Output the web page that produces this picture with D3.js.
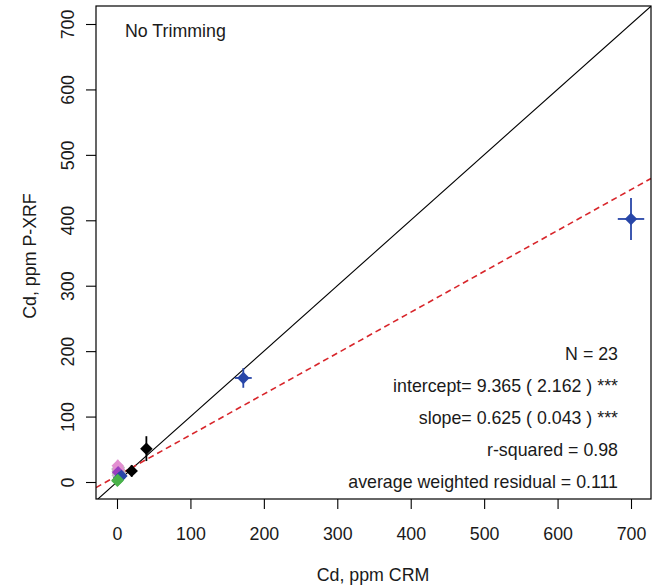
<!DOCTYPE html>
<html><head><meta charset="utf-8">
<script src="https://cdn.jsdelivr.net/npm/d3@7/dist/d3.min.js"></script>
<style>
body{margin:0;background:#fff;}
text{font-family:"Liberation Sans",Arial,sans-serif;fill:#1a1a1a;}
</style></head>
<body>
<svg id="chart" width="665" height="588"></svg>
<script>
// ---- data ----
const crm   = [700, 172, 40, 20, 1, 2, 1.5, 3, 0.5, 2.5, 1, 4, 1, 2, 1.5, 6, 3, 1, 0.5, 2, 3.5, 1.2, 2.8];
const xrf   = [402, 159, 51, 17, 10, 14, 18, 12, 20, 22, 16, 15, 25, 20, 15, 9, 6, 3, 2, 11, 8, 13, 19];
const xErr  = [18, 11.5, 2, 2, 1, 1, 1, 1, 1, 1, 1, 1, 1, 1, 1, 1, 1, 1, 1, 1, 1, 1, 1];
const yErr  = [32, 15, 19, 9, 4, 4, 4, 4, 4, 4, 4, 4, 9, 6, 4, 3, 3, 3, 2, 4, 3, 4, 5];
const group = ["blue","blue","black","black","gray","gray","gray","gray","gray","gray","gray","gray","pink","pink","purple","blue","blue","green","green","gray","gray","gray","gray"];
const groupColors = {blue:"#2846a8", black:"#000000", gray:"#bdbdbd", pink:"#e28fd0", purple:"#9b3fc0", green:"#49b24a"};
const xTicks = [0,100,200,300,400,500,600,700];
const yTicks = [0,100,200,300,400,500,600,700];
const fitIntercept = 9.365, fitSlope = 0.625;
const statLines = ["N = 23","intercept= 9.365 ( 2.162 ) ***","slope= 0.625 ( 0.043 ) ***","r-squared = 0.98","average weighted residual = 0.111"];
const panelLabel = "No Trimming";
const xLabel = "Cd, ppm CRM", yLabel = "Cd, ppm P-XRF";

// ---- layout ----
const box = {l:96, r:651, t:6, b:499};
const x = d3.scaleLinear().domain([0,700]).range([117,631]);
const y = d3.scaleLinear().domain([0,700]).range([482,24]);
const svg = d3.select("#chart");
const FS = 17.8;

svg.append("defs").append("clipPath").attr("id","clip")
  .append("rect").attr("x",box.l).attr("y",box.t).attr("width",box.r-box.l).attr("height",box.b-box.t);

const xmin = x.invert(box.l), xmax = x.invert(box.r);
const plot = svg.append("g").attr("clip-path","url(#clip)");
// identity line
plot.append("line")
  .attr("x1",x(xmin)).attr("y1",y(xmin)).attr("x2",x(xmax)).attr("y2",y(xmax))
  .attr("stroke","#000").attr("stroke-width",1.1);
// fit line
plot.append("line")
  .attr("x1",x(xmin)).attr("y1",y(fitIntercept+fitSlope*xmin))
  .attr("x2",x(xmax)).attr("y2",y(fitIntercept+fitSlope*xmax))
  .attr("stroke","#d8262b").attr("stroke-width",1.6).attr("stroke-dasharray","6,4");

// error bars + points
const pts = crm.map((c,i)=>({x:c,y:xrf[i],ex:xErr[i],ey:yErr[i],g:group[i]}));
const order = pts.slice().sort((a,b)=>(a.g==="gray"?0:1)-(b.g==="gray"?0:1));
const pg = plot.selectAll("g.pt").data(order).enter().append("g").attr("class","pt");
pg.append("line").attr("x1",d=>x(d.x-d.ex)).attr("x2",d=>x(d.x+d.ex)).attr("y1",d=>y(d.y)).attr("y2",d=>y(d.y))
  .attr("stroke",d=>groupColors[d.g]).attr("stroke-width",1.8);
pg.append("line").attr("x1",d=>x(d.x)).attr("x2",d=>x(d.x)).attr("y1",d=>y(d.y-d.ey)).attr("y2",d=>y(d.y+d.ey))
  .attr("stroke",d=>groupColors[d.g]).attr("stroke-width",1.8);
pg.append("path").attr("d",d3.symbol().type(d3.symbolSquare).size(78))
  .attr("transform",d=>`translate(${x(d.x)},${y(d.y)}) rotate(45)`)
  .attr("fill",d=>groupColors[d.g]);

// box
svg.append("rect").attr("x",box.l).attr("y",box.t).attr("width",box.r-box.l).attr("height",box.b-box.t)
  .attr("fill","none").attr("stroke","#000").attr("stroke-width",1.2);

// axes
const gx = svg.append("g").attr("transform",`translate(0,${box.b})`)
  .call(d3.axisBottom(x).tickValues(xTicks).tickSize(10).tickPadding(18));
gx.select(".domain").remove();
gx.selectAll("line").attr("stroke","#000").attr("stroke-width",1.1);
gx.selectAll("text").attr("font-size",FS).attr("fill","#1a1a1a").attr("font-family","Liberation Sans, Arial, sans-serif");

const gy = svg.append("g").attr("transform",`translate(${box.l},0)`)
  .call(d3.axisLeft(y).tickValues(yTicks).tickSize(10));
gy.select(".domain").remove();
gy.selectAll("line").attr("stroke","#000").attr("stroke-width",1.1);
gy.selectAll("text").attr("font-size",FS).attr("fill","#1a1a1a").attr("font-family","Liberation Sans, Arial, sans-serif")
  .attr("x",null).attr("dy",null).attr("y",null)
  .attr("text-anchor","middle").attr("dominant-baseline","central")
  .attr("transform","translate(-28,0) rotate(-90)");

// labels
svg.append("text").attr("x",373).attr("y",581).attr("text-anchor","middle").attr("font-size",FS).text(xLabel);
svg.append("text").attr("transform","translate(30,256) rotate(-90)").attr("text-anchor","middle")
  .attr("dominant-baseline","central").attr("font-size",FS).text(yLabel);
svg.append("text").attr("x",125).attr("y",37).attr("font-size",FS).text(panelLabel);

svg.selectAll("text.stat").data(statLines).enter().append("text").attr("class","stat")
  .attr("x",618).attr("y",(d,i)=>354+i*32).attr("dominant-baseline","central")
  .attr("text-anchor","end").attr("font-size",FS).text(d=>d);
</script>
</body></html>
